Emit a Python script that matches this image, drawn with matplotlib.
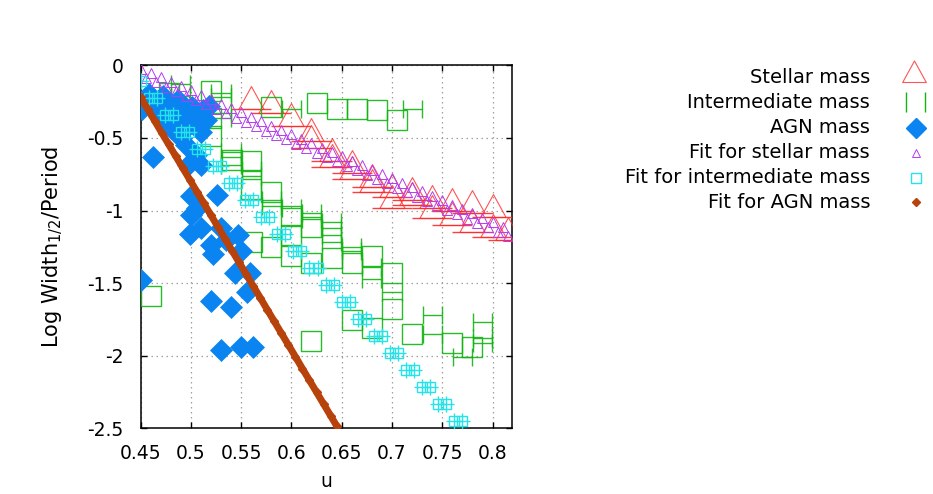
import numpy as np
import matplotlib
matplotlib.use("Agg")
import matplotlib.pyplot as plt
from matplotlib.path import Path
from matplotlib.ticker import FuncFormatter

## values
stellar_x = [0.56, 0.58, 0.60, 0.62, 0.62, 0.64, 0.64, 0.66, 0.66, 0.68, 0.68,
             0.70, 0.70, 0.72, 0.72, 0.74, 0.74, 0.76, 0.76, 0.78, 0.78, 0.80, 0.80, 0.815]
stellar_y = [-0.30, -0.33, -0.42, -0.52, -0.57, -0.66, -0.70, -0.74, -0.78, -0.84, -0.87,
             -0.91, -0.98, -0.93, -0.96, -0.98, -1.05, -1.00, -1.10, -1.02, -1.15, -1.045, -1.18, -1.20]

inter_x = [0.46, 0.478, 0.52, 0.52, 0.52, 0.541, 0.56, 0.56, 0.58, 0.58, 0.58, 0.60, 0.60,
           0.62, 0.62, 0.62, 0.625, 0.64, 0.645, 0.66, 0.66, 0.665, 0.68, 0.68, 0.685,
           0.70, 0.70, 0.705, 0.72, 0.76, 0.78, 0.561, 0.60]
inter_y = [-1.59, -0.19, -0.175, -0.36, -0.49, -0.65, -0.66, -0.85, -0.29, -0.87, -1.25, -1.04, -1.31,
           -1.11, -1.36, -1.90, -0.26, -1.33, -0.30, -1.36, -1.75, -0.30, -1.31, -1.81, -0.31,
           -1.43, -1.68, -0.38, -1.85, -1.91, -1.94, -1.22, -1.17]

## intermediate mass points whose square is hidden, only the x error bar shows
inter_bar_x = [0.49, 0.49, 0.53, 0.53, 0.53, 0.53, 0.54, 0.54, 0.54, 0.56, 0.56, 0.58, 0.58,
               0.60, 0.62, 0.62, 0.64, 0.64, 0.64, 0.64, 0.66, 0.66, 0.68, 0.68, 0.70,
               0.74, 0.74, 0.79, 0.79, 0.79, 0.77, 0.60, 0.72]
inter_bar_y = [-0.13, -0.21, -0.19, -0.22, -0.33, -0.36, -0.60, -0.63, -0.69, -0.72, -0.76, -0.93, -0.97,
               -0.98, -1.02, -1.06, -1.08, -1.12, -1.17, -1.22, -1.25, -1.28, -1.39, -1.47, -1.56,
               -1.72, -1.85, -1.77, -1.88, -1.91, -2.01, -0.30, -0.30]

agn_x = [0.451, 0.458, 0.463, 0.468, 0.472, 0.478, 0.483, 0.487, 0.492, 0.497, 0.501, 0.507,
         0.512, 0.518, 0.480, 0.490, 0.510, 0.515, 0.475,
         0.462, 0.495, 0.505, 0.510, 0.497, 0.500, 0.526, 0.506, 0.500,
         0.499, 0.510, 0.520, 0.522, 0.530, 0.547, 0.550, 0.535,
         0.544, 0.559, 0.556, 0.520, 0.540, 0.450, 0.530, 0.550, 0.562]
agn_y = [-0.30, -0.20, -0.27, -0.35, -0.21, -0.29, -0.38, -0.24, -0.33, -0.42, -0.29, -0.37,
         -0.31, -0.28, -0.43, -0.50, -0.46, -0.38, -0.40,
         -0.63, -0.55, -0.62, -0.69, -0.69, -0.90, -0.89, -0.98, -1.03,
         -1.16, -1.12, -1.24, -1.30, -1.12, -1.17, -1.28, -1.20,
         -1.43, -1.43, -1.56, -1.62, -1.665, -1.48, -1.96, -1.94, -1.94]

fit_stellar_x = [0.450, 0.455, 0.460, 0.465, 0.470, 0.475, 0.480, 0.485, 0.490, 0.495,
                 0.500, 0.505, 0.510, 0.515, 0.520, 0.525, 0.530, 0.535, 0.540, 0.545,
                 0.550, 0.555, 0.560, 0.565, 0.570, 0.575, 0.580, 0.585, 0.590, 0.595,
                 0.600, 0.605, 0.610, 0.615, 0.620, 0.625, 0.630, 0.635, 0.640, 0.645,
                 0.650, 0.655, 0.660, 0.665, 0.670, 0.675, 0.680, 0.685, 0.690, 0.695,
                 0.700, 0.705, 0.710, 0.715, 0.720, 0.725, 0.730, 0.735, 0.740, 0.745,
                 0.750, 0.755, 0.760, 0.765, 0.770, 0.775, 0.780, 0.785, 0.790, 0.795,
                 0.800, 0.805, 0.810, 0.815]
fit_stellar_y = [-0.023, -0.088, -0.053, -0.118, -0.083, -0.149, -0.114, -0.179, -0.144, -0.209,
                 -0.174, -0.239, -0.204, -0.269, -0.234, -0.300, -0.265, -0.330, -0.295, -0.360,
                 -0.325, -0.390, -0.355, -0.420, -0.385, -0.451, -0.416, -0.481, -0.446, -0.511,
                 -0.476, -0.541, -0.506, -0.571, -0.536, -0.602, -0.567, -0.632, -0.597, -0.662,
                 -0.627, -0.692, -0.657, -0.722, -0.687, -0.753, -0.718, -0.783, -0.748, -0.813,
                 -0.778, -0.843, -0.808, -0.873, -0.838, -0.904, -0.869, -0.934, -0.899, -0.964,
                 -0.929, -0.994, -0.959, -1.024, -0.989, -1.055, -1.020, -1.085, -1.050, -1.115,
                 -1.080, -1.145, -1.110, -1.175]

fit_inter_x = [0.450, 0.458, 0.466, 0.474, 0.482, 0.490, 0.498, 0.506, 0.514, 0.522,
               0.530, 0.538, 0.546, 0.554, 0.562, 0.570, 0.578, 0.586, 0.594, 0.602,
               0.610, 0.618, 0.626, 0.634, 0.642, 0.650, 0.658, 0.666, 0.674, 0.682,
               0.690, 0.698, 0.706, 0.714, 0.722, 0.730, 0.738, 0.746, 0.754, 0.762, 0.770]
fit_inter_y = [-0.110, -0.228, -0.227, -0.345, -0.344, -0.462, -0.461, -0.579, -0.578, -0.696,
               -0.695, -0.813, -0.812, -0.930, -0.929, -1.047, -1.046, -1.164, -1.163, -1.281,
               -1.280, -1.398, -1.397, -1.515, -1.514, -1.632, -1.630, -1.749, -1.747, -1.866,
               -1.864, -1.983, -1.981, -2.100, -2.098, -2.217, -2.215, -2.334, -2.332, -2.451, -2.449]

fit_agn_x = [0.450, 0.457, 0.464, 0.471, 0.478, 0.485, 0.492, 0.499, 0.506, 0.513,
             0.520, 0.527, 0.534, 0.541, 0.548, 0.555, 0.562, 0.569, 0.576, 0.583,
             0.590, 0.597, 0.604, 0.611, 0.618, 0.625, 0.632, 0.639, 0.645]
fit_agn_y = [-0.220, -0.301, -0.382, -0.464, -0.545, -0.626, -0.707, -0.788, -0.870, -0.951,
             -1.032, -1.113, -1.194, -1.276, -1.357, -1.438, -1.519, -1.600, -1.682, -1.763,
             -1.844, -1.925, -2.006, -2.088, -2.169, -2.250, -2.331, -2.412, -2.482]

legend_labels = ["Stellar mass", "Intermediate mass", "AGN mass",
                 "Fit for stellar mass", "Fit for intermediate mass", "Fit for AGN mass"]

xticks = [0.45, 0.5, 0.55, 0.6, 0.65, 0.7, 0.75, 0.8]
yticks = [0, -0.5, -1, -1.5, -2, -2.5]

RED = "#ff2a2a"
GREEN = "#12b412"
BLUE = "#0a84f0"
VIOLET = "#b43cf0"
CYAN = "#22e4ea"
BROWN = "#b8420c"

## triangle with its base on the data point (gnuplot style)
tri = Path([(-0.55, 0.0), (0.0, 1.0), (0.55, 0.0), (-0.55, 0.0)],
           [Path.MOVETO, Path.LINETO, Path.LINETO, Path.CLOSEPOLY])

plt.rcParams["font.family"] = ["DejaVu Sans"]
plt.rcParams["font.size"] = 13.5

fig = plt.figure(figsize=(9.33, 4.94), dpi=100)
ax = fig.add_axes([0.1506, 0.1326, 0.3978, 0.7354])

## stellar mass
ax.errorbar(stellar_x, stellar_y, xerr=0.02, fmt="none", ecolor=RED, elinewidth=1.0,
            capsize=0, alpha=0.9, zorder=3)
ax.plot(stellar_x, stellar_y, linestyle="none", marker=tri, markersize=33,
        markerfacecolor="none", markeredgecolor=RED, markeredgewidth=0.8, alpha=0.8, zorder=3)

## intermediate mass
ax.errorbar(inter_bar_x, inter_bar_y, xerr=0.0095, fmt="none", ecolor=GREEN,
            elinewidth=1.0, capsize=6.8, capthick=1.0, alpha=0.9, zorder=4)
ax.plot(inter_x, inter_y, linestyle="none", marker="s", markersize=13.7,
        markerfacecolor="none", markeredgecolor=GREEN, markeredgewidth=1.0, alpha=0.9, zorder=4)

## AGN mass
ax.plot(agn_x, agn_y, linestyle="none", marker="D", markersize=11.2,
        markerfacecolor=BLUE, markeredgecolor=BLUE, markeredgewidth=0.5, zorder=5)

## fits
ax.plot(fit_stellar_x, fit_stellar_y, linestyle="none", marker="^", markersize=6.5,
        markerfacecolor="none", markeredgecolor=VIOLET, markeredgewidth=0.7, zorder=6)
ax.plot(fit_inter_x, fit_inter_y, linestyle="none", marker="s", markersize=7,
        markerfacecolor="none", markeredgecolor=CYAN, markeredgewidth=1.0, zorder=7)
ax.plot(fit_inter_x, fit_inter_y, linestyle="none", marker="+", markersize=11,
        markeredgecolor=CYAN, markeredgewidth=1.0, zorder=7)
ax.plot(fit_agn_x, fit_agn_y, color=BROWN, linewidth=5, solid_capstyle="butt",
        marker="D", markersize=4, markerfacecolor=BROWN, markeredgecolor=BROWN, zorder=8)

ax.set_xlim(0.45, 0.819)
ax.set_ylim(-2.5, 0)
ax.set_xticks(xticks)
ax.set_yticks(yticks)
fmt = FuncFormatter(lambda v, p: "%g" % v)
ax.xaxis.set_major_formatter(fmt)
ax.yaxis.set_major_formatter(fmt)
ax.tick_params(direction="in", length=4.5, width=1, top=True, right=True)
ax.tick_params(axis="x", pad=11)
ax.tick_params(axis="y", pad=12)
ax.grid(True, color="#a0a0a0", linestyle=(0, (1.2, 2.8)), linewidth=0.9)
ax.set_axisbelow(True)
for s in ax.spines.values():
    s.set_linewidth(1.1)

ax.set_ylabel("Log Width$_{1/2}$/Period", fontsize=15, labelpad=16)
ax.set_xlabel("u", labelpad=7)

## legend drawn by hand, text right aligned like gnuplot's key
lg = fig.add_axes([0, 0, 1, 1])
lg.set_xlim(0, 933)
lg.set_ylim(494, 0)
lg.axis("off")
rows = [83.3, 108.3, 133.3, 158.3, 183.3, 208.3]
for lab, yb in zip(legend_labels, rows):
    lg.text(870, yb, lab, ha="right", va="baseline", fontsize=14)
lg.plot([914], [82], linestyle="none", marker=tri, markersize=31, markerfacecolor="none",
        markeredgecolor=RED, markeredgewidth=0.8, alpha=0.8)
lg.plot([906, 925], [102.5, 102.5], linestyle="none", marker="|", markersize=13.7,
        markeredgecolor=GREEN, markeredgewidth=1.0)
lg.plot([916], [128.5], linestyle="none", marker="D", markersize=10, color=BLUE)
lg.plot([916], [153], linestyle="none", marker="^", markersize=6, markerfacecolor="none",
        markeredgecolor=VIOLET, markeredgewidth=0.7)
lg.plot([916], [178], linestyle="none", marker="s", markersize=6.5, markerfacecolor="none",
        markeredgecolor=CYAN, markeredgewidth=1.0)
lg.plot([916], [202], linestyle="none", marker="D", markersize=4.5, color=BROWN)

fig.savefig("out.png", dpi=100)
